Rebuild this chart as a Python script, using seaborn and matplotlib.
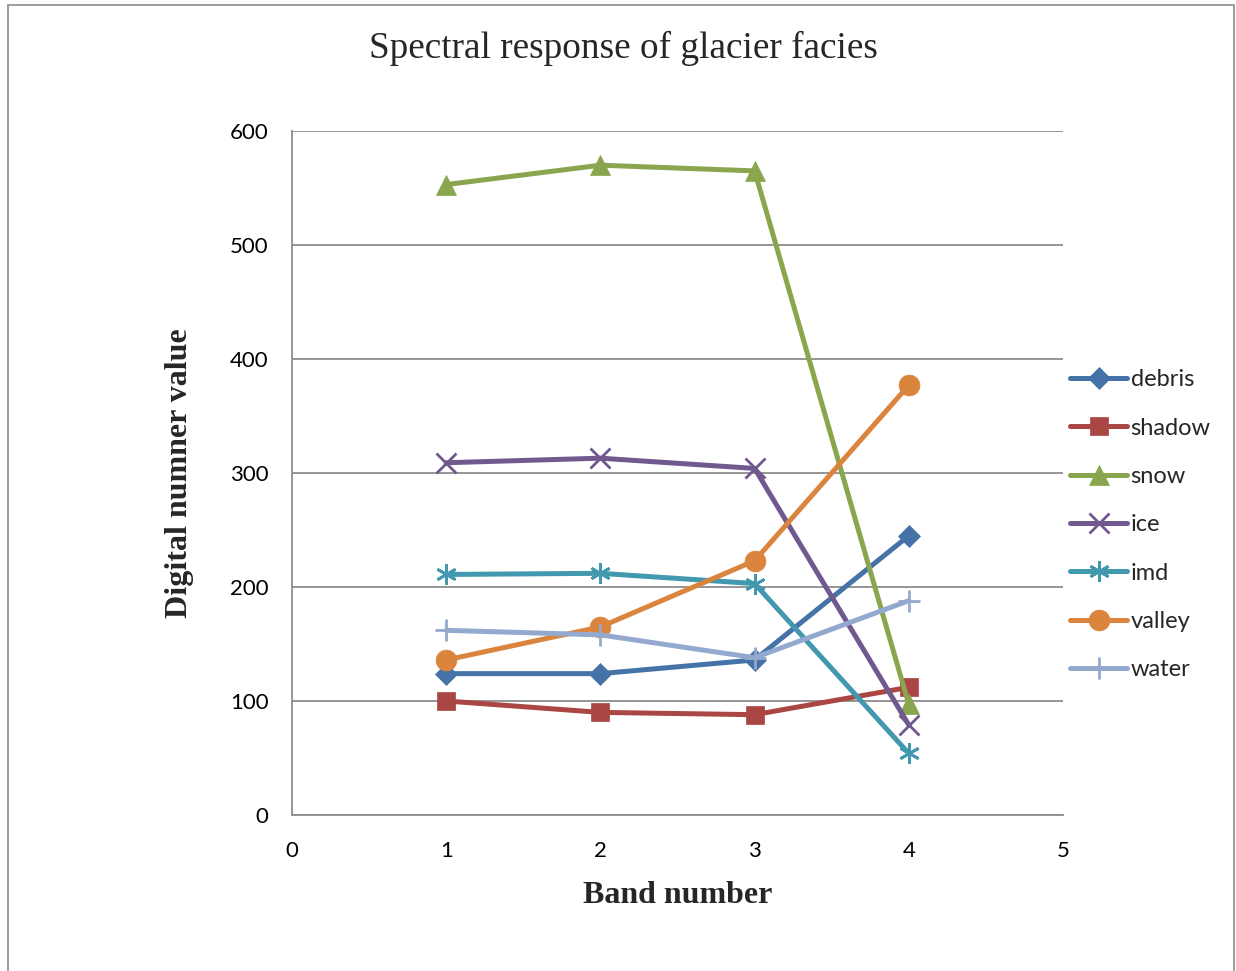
import matplotlib
matplotlib.use("Agg")
import matplotlib.pyplot as plt
import seaborn as sns
import pandas as pd
from matplotlib.patches import Rectangle

bands = [1, 2, 3, 4]
debris = [124, 124, 136, 245]
shadow = [100, 90, 88, 112]
snow = [553, 570, 565, 97]
ice = [309, 313, 304, 79]
imd = [211, 212, 203, 54]
valley = [136, 165, 223, 377]
water = [162, 158, 138, 188]

names = ["debris", "shadow", "snow", "ice", "imd", "valley", "water"]
series = [debris, shadow, snow, ice, imd, valley, water]
colors = ["#4572A7", "#AA4643", "#89A54E", "#71588F", "#4198AF", "#DB843D", "#93A9CF"]
markers = ["D", "s", "^", "x", (6, 2, 0), "o", "+"]
msizes = [11, 13, 14, 14, 15, 15, 16]

rows = []
for n, s in zip(names, series):
    for b, v in zip(bands, s):
        rows.append({"band": b, "value": v, "facies": n})
df = pd.DataFrame(rows)

sns.set_theme(style="white")
plt.rcParams['font.family'] = ['Lato', 'DejaVu Sans']

fig = plt.figure(figsize=(12.36, 9.71), dpi=100)
ax = fig.add_axes([292/1236, 1-815/971, (1063-292)/1236, (815-131)/971])

for n, c, m, ms in zip(names, colors, markers, msizes):
    sub = df[df["facies"] == n]
    sns.lineplot(data=sub, x="band", y="value", ax=ax, color=c, marker=m,
                 markersize=ms, linewidth=3.6, label=n, markeredgecolor=c,
                 markeredgewidth=2 if m in ("x", "+", (6, 2, 0)) else 0.5,
                 legend=False)

ax.set_xlim(0, 5)
ax.set_ylim(0, 600)
ax.set_xticks([0, 1, 2, 3, 4, 5])
ax.set_yticks([0, 100, 200, 300, 400, 500, 600])
ax.tick_params(axis='both', length=0, labelsize=16, colors='black')
ax.tick_params(axis='x', pad=19)
ax.tick_params(axis='y', pad=17)
ax.yaxis.grid(True, color="#8c8c8c", linewidth=1.3)
ax.xaxis.grid(False)
for sp in ["top", "right"]:
    ax.spines[sp].set_visible(False)
for sp in ["left", "bottom"]:
    ax.spines[sp].set_color("#8c8c8c")
    ax.spines[sp].set_linewidth(1.3)

ax.set_xlabel("Band number", fontsize=23, fontweight="bold",
              family=["Liberation Serif"], labelpad=14)
ax.set_ylabel("Digital numner value", fontsize=23, fontweight="bold",
              family=["Liberation Serif"], labelpad=26)
fig.text(623/1236, 1-48/971, "Spectral response of glacier facies", fontsize=26.8,
         family=["Liberation Serif"], ha="center", va="center")

handles, labels = ax.get_legend_handles_labels()
leg = fig.legend(handles, labels, loc="upper left", bbox_to_anchor=(1061/1236, 1-360/971),
                 frameon=False, fontsize=17, handlelength=2.4, handletextpad=0.15,
                 labelspacing=1.155, borderaxespad=0)

fig.patches.append(Rectangle((8/1236, -0.05), 1226/1236, 1.05 - 5/971, transform=fig.transFigure,
                             fill=False, edgecolor="#8c8c8c", linewidth=1.2))

fig.savefig("out.png", dpi=100)
